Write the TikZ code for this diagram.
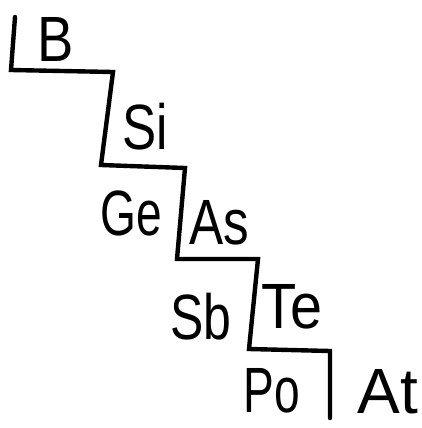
\documentclass[tikz,border=0pt]{standalone}
\usepackage{fontspec}
\setmainfont{Liberation Sans}
\begin{document}
\begin{tikzpicture}[x=1pt,y=-1pt,
  stair/.style={line width=4.4pt,line join=miter,line cap=round,black},
  elem/.style={inner sep=0pt,font=\fontsize{64}{64}\selectfont,text=black}]
\useasboundingbox (0,0) rectangle (421,428);
\coordinate (p0) at (15,17);
\coordinate (p1) at (11,70);
\coordinate (p2) at (113,72);
\coordinate (p3) at (101,165);
\coordinate (p4) at (185,168);
\coordinate (p5) at (177,259);
\coordinate (p6) at (258,259);
\coordinate (p7) at (249,349);
\coordinate (p8) at (330,351);
\coordinate (p9) at (330,418);
\draw[stair] (p0) -- (p1) -- (p2) -- (p3) -- (p4) -- (p5) -- (p6) -- (p7) -- (p8) -- (p9);
\node[elem] (B) at (56,39) {\scalebox{0.85}[1]{B}};
\node[elem] (Si) at (145,127) {\scalebox{0.8}[1]{Si}};
\node[elem] (Ge) at (131,213) {\scalebox{0.72}[1]{Ge}};
\node[elem] (As) at (219,223) {\scalebox{0.8}[1]{As}};
\node[elem] (Sb) at (201,317) {\scalebox{0.78}[1]{Sb}};
\node[elem] (Te) at (292,307) {\scalebox{0.9}[1]{Te}};
\node[elem] (Po) at (272,391) {\scalebox{0.72}[1]{Po}};
\node[elem] (At) at (388,392) {\scalebox{1}[1]{At}};
\end{tikzpicture}
\end{document}
